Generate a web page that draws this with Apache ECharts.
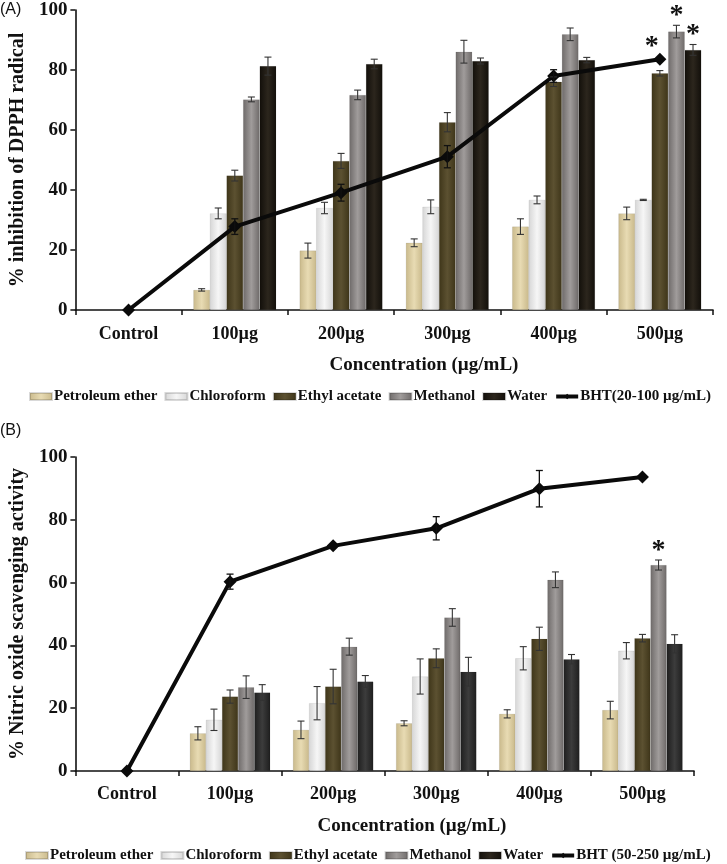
<!DOCTYPE html>
<html><head><meta charset="utf-8">
<script src="https://cdn.jsdelivr.net/npm/echarts@6/dist/echarts.min.js"></script>
<style>html,body{margin:0;background:#fff}#c{width:727px;height:864px}</style></head>
<body><div id="c"></div>
<script>
const categories = ['Control','100µg','200µg','300µg','400µg','500µg'];
const seriesNames = ['Petroleum ether','Chloroform','Ethyl acetate','Methanol','Water'];
const yTicks = [0,20,40,60,80,100];

// Panel A: % inhibition of DPPH radical
const dpphPetroleum = [null, 6.7, 19.8, 22.4, 27.8, 32.2];
const dpphChloroform = [null, 32.2, 34.0, 34.4, 36.7, 36.7];
const dpphEthyl = [null, 44.8, 49.7, 62.6, 76.1, 78.9];
const dpphMethanol = [null, 70.2, 71.7, 86.1, 91.9, 92.8];
const dpphWater = [null, 81.3, 82.0, 83.0, 83.3, 86.7];
const dpphBHT = [0, 27.8, 39.1, 51.1, 78.0, 83.6];
const dpphErrPetroleum = [0, 0.4, 2.5, 1.3, 2.6, 2.1];
const dpphErrChloroform = [0, 1.8, 1.9, 2.3, 1.3, 0.2];
const dpphErrEthyl = [0, 1.8, 2.5, 3.2, 1.6, 0.9];
const dpphErrMethanol = [0, 0.8, 1.6, 3.8, 2.1, 2.1];
const dpphErrWater = [0, 3.0, 1.6, 1.0, 0.9, 1.8];
const dpphErrBHT = [0, 2.6, 2.8, 3.7, 2.1, 0];

// Panel B: % nitric oxide scavenging activity
const noPetroleum = [null, 12.0, 13.1, 15.2, 18.2, 19.4];
const noChloroform = [null, 16.3, 21.6, 30.1, 35.9, 38.3];
const noEthyl = [null, 23.7, 26.9, 35.9, 42.1, 42.3];
const noMethanol = [null, 26.7, 39.6, 48.9, 60.9, 65.6];
const noWater = [null, 25.0, 28.5, 31.6, 35.6, 40.5];
const noBHT = [0, 60.3, 71.7, 77.3, 89.9, 93.6];
const noErrPetroleum = [0, 2.1, 2.8, 0.8, 1.3, 2.8];
const noErrChloroform = [0, 3.4, 5.3, 5.6, 3.7, 2.6];
const noErrEthyl = [0, 2.1, 5.5, 3.0, 3.7, 1.2];
const noErrMethanol = [0, 3.6, 2.7, 2.8, 2.5, 1.6];
const noErrWater = [0, 2.5, 1.9, 4.6, 1.5, 2.9];
const noErrBHT = [0, 2.4, 0, 3.7, 5.8, 0];

const bhtNameA = 'BHT(20-100 µg/mL)';
const bhtNameB = 'BHT (50-250 µg/mL)';
const xTitle = 'Concentration (µg/mL)';

const SERIF = 'Liberation Serif';
const GAP = 0.22;

function grad(edge, mid){
  return new echarts.graphic.LinearGradient(0,0,1,0,[
    {offset:0,color:edge},{offset:0.5,color:mid},{offset:1,color:edge}]);
}
const colorsA = [grad('#c9b98b','#e8dbb3'), grad('#d6d6d6','#f6f6f6'), grad('#3e3519','#5c5131'),
                 grad('#6e6a69','#a09c9b'), grad('#120f0a','#2c261d')];
const colorsB = [grad('#c9b98b','#e8dbb3'), grad('#d6d6d6','#f6f6f6'), grad('#3e3519','#5c5131'),
                 grad('#6e6a69','#a09c9b'), grad('#1e1e1e','#3c3c3c')];
const legendColors = ['#e2d4a8','#eeeeee','#574c2c','#8f8b8a','#25201a'];

function barSeries(vals, idx, colors){
  return vals.map((v,i)=>({
    name: seriesNames[i], type:'bar', xAxisIndex:idx, yAxisIndex:idx,
    data: v, barGap:'0%', barCategoryGap:(GAP*100)+'%',
    itemStyle:{color:colors[i], borderColor:'rgba(0,0,0,0.15)', borderWidth:0.5},
    emphasis:{disabled:true}
  }));
}

function errSeries(vals, errs, bhtVals, bhtErrs, idx, stars){
  const data = [];
  vals.forEach((arr,s)=>arr.forEach((v,c)=>{ if(v!=null && errs[s][c]>0) data.push([c, s, v, errs[s][c], 0]); }));
  bhtVals.forEach((v,c)=>{ if(bhtErrs[c]>0) data.push([c, -1, v, bhtErrs[c], 0]); });
  stars.forEach(st=>data.push([st[0], st[1], st[2], 0, 1]));
  return {
    type:'custom', xAxisIndex:idx, yAxisIndex:idx, silent:true, z:5,
    data: data,
    renderItem: function(params, api){
      const c = api.value(0), s = api.value(1), v = api.value(2), e = api.value(3), star = api.value(4);
      const band = api.size([1,0])[0];
      const bw = band*(1-GAP)/5;
      const center = api.coord([c, v]);
      const x = s < 0 ? center[0] : center[0] + (s-2)*bw;
      if (star) {
        const y = api.coord([c, v])[1];
        return {type:'text', style:{text:'*', x:x + (s<0 ? -8 : 0), y:y+6, textAlign:'center', textVerticalAlign:'bottom',
          font:'bold 28px ' + SERIF, fill:'#111'}};
      }
      const top = api.coord([c, v+e])[1], bot = api.coord([c, v-e])[1];
      const cap = 3.5;
      const st = {stroke: s<0 ? '#111' : '#333', lineWidth: s<0 ? 1.3 : 1.1};
      return {type:'group', children:[
        {type:'line', shape:{x1:x,y1:top,x2:x,y2:bot}, style:st},
        {type:'line', shape:{x1:x-cap,y1:top,x2:x+cap,y2:top}, style:st},
        {type:'line', shape:{x1:x-cap,y1:bot,x2:x+cap,y2:bot}, style:st}
      ]};
    }
  };
}

function lineSeries(name, vals, idx){
  return {name:name, type:'line', xAxisIndex:idx, yAxisIndex:idx, data:vals, z:4,
    symbol:'diamond', symbolSize:13, lineStyle:{color:'#0a0a0a', width:4},
    itemStyle:{color:'#0a0a0a'}, emphasis:{disabled:true}};
}

const axisLabelStyle = {color:'#111', fontFamily:SERIF, fontWeight:'bold', fontSize:18};
function xAxis(idx, margin){
  return {type:'category', gridIndex:idx, data:categories,
    axisLine:{lineStyle:{color:'#111', width:1.6}},
    axisTick:{show:true, length:5, lineStyle:{color:'#111', width:1.5}},
    axisLabel:Object.assign({margin:margin}, axisLabelStyle)};
}
function yAxis(idx, name, gap){
  return {type:'value', gridIndex:idx, min:0, max:100, interval:20,
    name:name, nameLocation:'middle', nameGap:gap,
    nameTextStyle:{color:'#111', fontFamily:SERIF, fontWeight:'bold', fontSize:20},
    axisLine:{show:true, lineStyle:{color:'#111', width:1.6}},
    axisTick:{show:true, length:5, lineStyle:{color:'#111', width:1.5}},
    splitLine:{show:false},
    axisLabel:Object.assign({margin:8}, axisLabelStyle, {fontSize:19})};
}
function legend(top, left, bht){
  const d = seriesNames.map(n=>({name:n, icon:'rect'}));
  d.push({name:bht, itemStyle:{color:'#0a0a0a'}, lineStyle:{width:4, color:'#0a0a0a'}});
  return {top:top, left:left, itemWidth:22, itemHeight:7, itemGap:7, data:d, selectedMode:false,
    textStyle:{color:'#111', fontFamily:SERIF, fontWeight:'bold', fontSize:15, padding:[0,0,0,-3]}};
}

const valsA = [dpphPetroleum,dpphChloroform,dpphEthyl,dpphMethanol,dpphWater];
const errsA = [dpphErrPetroleum,dpphErrChloroform,dpphErrEthyl,dpphErrMethanol,dpphErrWater];
const valsB = [noPetroleum,noChloroform,noEthyl,noMethanol,noWater];
const errsB = [noErrPetroleum,noErrChloroform,noErrEthyl,noErrMethanol,noErrWater];

const starsA = [[5,-1,dpphBHT[5]+1.5],[5,3,dpphMethanol[5]+dpphErrMethanol[5]+0.5],[5,4,dpphWater[5]+dpphErrWater[5]+0.5]];
const starsB = [[5,3,noMethanol[5]+noErrMethanol[5]+0.5]];

const chart = echarts.init(document.getElementById('c'), null, {renderer:'canvas'});
chart.setOption({
  animation:false,
  color: legendColors.concat(['#0a0a0a']),
  grid:[{left:70, right:14, top:10, height:300}, {left:63, right:33, top:457, height:314}],
  xAxis:[xAxis(0,15), xAxis(1,14)],
  yAxis:[yAxis(0,'% inhibition of DPPH radical',45), yAxis(1,'% Nitric oxide scavenging activity',39)],
  legend:[legend(384, 24, bhtNameA), legend(843, 20, bhtNameB)],
  graphic:[
    {type:'text', x:0, y:2, style:{text:'(A)', font:'16px "Liberation Sans"', fill:'#111'}},
    {type:'text', x:0, y:423, style:{text:'(B)', font:'16px "Liberation Sans"', fill:'#111'}},
    {type:'text', x:424, y:365, style:{text:xTitle, font:'bold 19px "Liberation Serif"', fill:'#111', align:'center', verticalAlign:'middle'}},
    {type:'text', x:412, y:826, style:{text:xTitle, font:'bold 19px "Liberation Serif"', fill:'#111', align:'center', verticalAlign:'middle'}}
  ],
  series: [].concat(
    barSeries(valsA, 0, colorsA),
    [lineSeries(bhtNameA, dpphBHT, 0), errSeries(valsA, errsA, dpphBHT, dpphErrBHT, 0, starsA)],
    barSeries(valsB, 1, colorsB),
    [lineSeries(bhtNameB, noBHT, 1), errSeries(valsB, errsB, noBHT, noErrBHT, 1, starsB)]
  )
});
</script></body></html>
